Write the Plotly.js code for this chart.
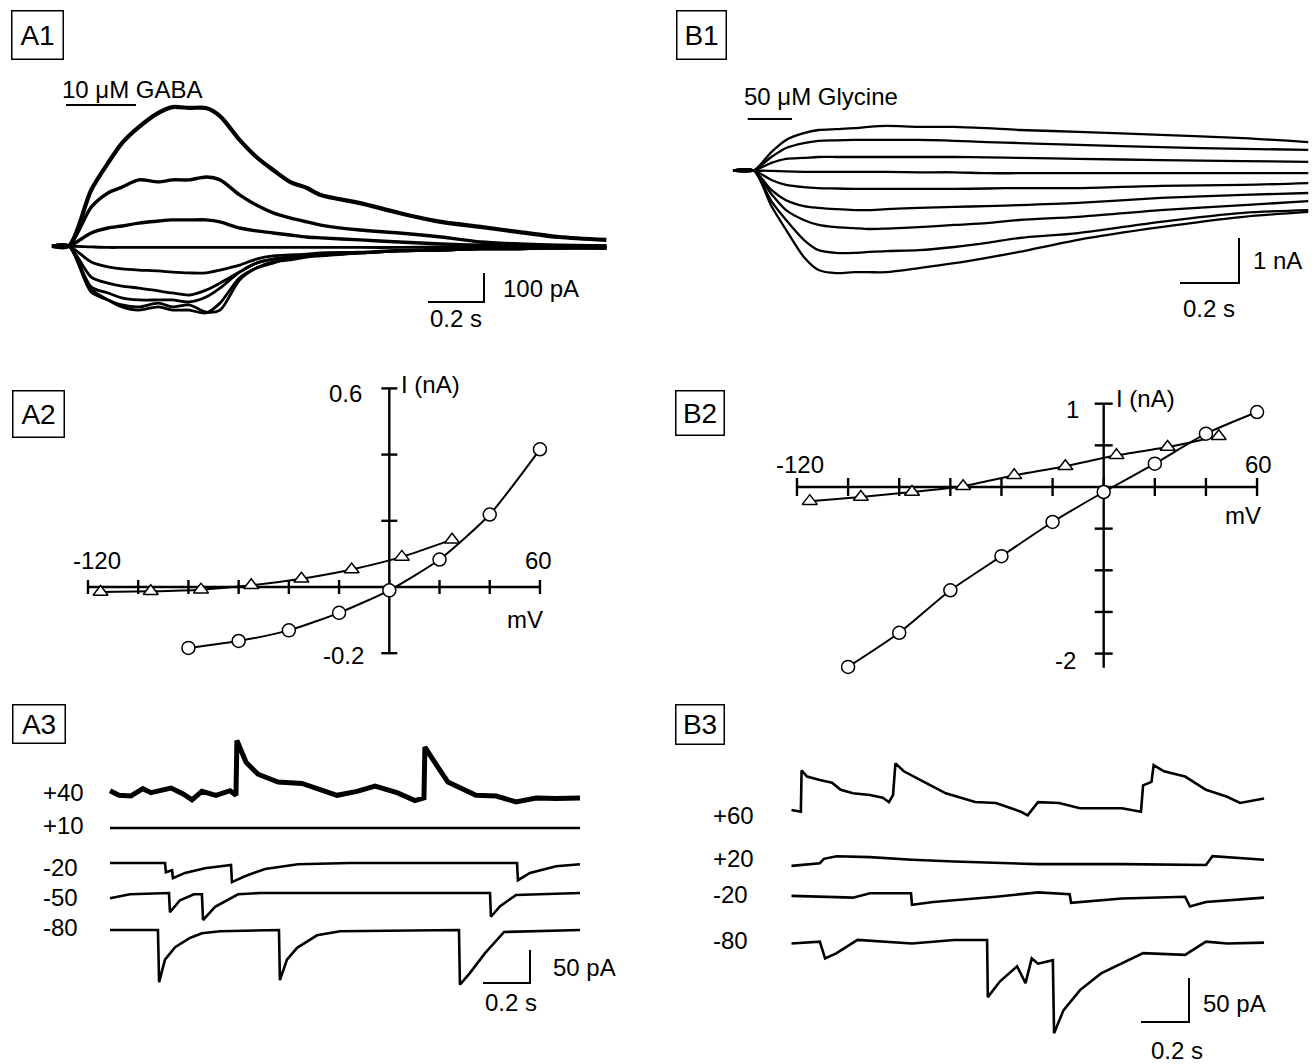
<!DOCTYPE html>
<html><head><meta charset="utf-8">
<script src="https://cdn.plot.ly/plotly-3.0.1.min.js"></script>
<style>html,body{margin:0;padding:0;background:#fff}#chart{width:1315px;height:1064px}</style>
</head><body><div id="chart"></div>
<script>
// ---------------- A1: GABA-evoked currents (time s, current pA) ----------------
const a1Time = [0,0.06,0.14,0.2,0.25,0.31,0.38,0.43,0.49,0.55,0.6,0.67,0.73,0.79,0.85,0.91,0.96,1.1,1.24,1.39,1.53,1.67,1.81,1.98];
const a1Cur1 = [0,0,193,286,355,410,459,479,476,476,448,366,307,262,221,200,176,148,114,83,66,48,31,21];
const a1Cur2 = [0,0,134,183,203,228,221,228,228,238,228,176,141,114,97,83,72,55,45,31,14,7,3,0];
const a1Cur3 = [0,0,45,62,69,79,86,90,90,90,83,62,52,45,38,31,28,21,14,7,3,0,0,0];
const a1Cur4 = [0,0,-3,-5,-5,-5,-5,-5,-5,-5,-5,-5,-5,-5,-5,-5,-5,-5,-5,-3,-3,-2,-2,-2];
const a1Cur5 = [0,0,-55,-72,-79,-83,-86,-90,-93,-93,-83,-66,-45,-34,-31,-28,-24,-21,-14,-10,-7,-7,-7,-7];
const a1Cur6 = [0,0,-107,-128,-138,-145,-155,-162,-169,-152,-128,-90,-59,-45,-38,-34,-31,-24,-17,-14,-10,-10,-7,-7];
const a1Cur7 = [0,0,-141,-162,-179,-186,-186,-186,-193,-176,-145,-90,-59,-45,-38,-34,-31,-24,-17,-14,-10,-10,-7,-7];
const a1Cur8 = [0,0,-148,-186,-210,-221,-210,-221,-221,-231,-197,-110,-76,-59,-41,-34,-31,-24,-17,-14,-10,-10,-7,-7];
const a1Cur9 = [0,0,-159,-186,-203,-210,-197,-210,-203,-228,-221,-117,-76,-55,-48,-38,-34,-24,-17,-14,-10,-10,-7,-7];
const a1Drug = [0.05, 0.30];          // GABA application (s)
const a1Scale = [0.2, 100];           // s, pA

// ---------------- B1: glycine-evoked currents (time s, current nA) ----------------
const b1Time = [0,0.07,0.13,0.18,0.24,0.29,0.35,0.41,0.46,0.52,0.63,0.75,0.86,0.97,1.17,1.45,1.73,1.95];
const b1Cur1 = [0,0,0.41,0.68,0.83,0.90,0.92,0.94,0.97,0.99,0.97,0.97,0.94,0.90,0.86,0.79,0.72,0.63];
const b1Cur2 = [0,0,0.30,0.50,0.61,0.66,0.67,0.68,0.68,0.68,0.68,0.66,0.63,0.61,0.57,0.52,0.48,0.46];
const b1Cur3 = [0,0,0.17,0.26,0.28,0.30,0.30,0.30,0.30,0.30,0.30,0.30,0.29,0.28,0.26,0.23,0.21,0.19];
const b1Cur4 = [0,0,-0.01,-0.02,-0.03,-0.03,-0.03,-0.03,-0.03,-0.03,-0.04,-0.04,-0.06,-0.06,-0.06,-0.06,-0.06,-0.06];
const b1Cur5 = [0,0,-0.21,-0.32,-0.37,-0.39,-0.40,-0.41,-0.41,-0.41,-0.41,-0.41,-0.40,-0.39,-0.39,-0.34,-0.32,-0.28];
const b1Cur6 = [0,0,-0.43,-0.66,-0.79,-0.83,-0.86,-0.88,-0.88,-0.86,-0.83,-0.81,-0.79,-0.77,-0.72,-0.61,-0.54,-0.50];
const b1Cur7 = [0,0,-0.52,-0.88,-1.10,-1.21,-1.26,-1.28,-1.30,-1.29,-1.26,-1.21,-1.17,-1.10,-1.03,-0.88,-0.77,-0.68];
const b1Cur8 = [0,0,-0.68,-1.10,-1.54,-1.77,-1.83,-1.83,-1.81,-1.79,-1.77,-1.70,-1.61,-1.50,-1.39,-1.14,-0.94,-0.88];
const b1Cur9 = [0,0,-0.79,-1.32,-1.92,-2.21,-2.28,-2.26,-2.26,-2.26,-2.17,-2.06,-1.94,-1.81,-1.54,-1.26,-1.03,-0.92];
const b1Drug = [0.05, 0.20];          // glycine application (s)
const b1Scale = [0.2, 1];             // s, nA

// ---------------- A2: I-V (mV, nA) ----------------
const a2CircV = [-80,-60,-40,-20,0,20,40,60];
const a2CircI = [-0.184,-0.163,-0.131,-0.078,-0.010,0.083,0.219,0.416];
const a2TriV  = [-115,-95,-75,-55,-35,-15,5,25];
const a2TriI  = [-0.015,-0.013,-0.008,0.005,0.025,0.053,0.091,0.143];
const a2VTicks = [-120,-100,-80,-60,-40,-20,0,20,40,60];
const a2ITicks = [-0.2,0,0.2,0.4,0.6];

// ---------------- B2: I-V (mV, nA) ----------------
const b2CircV = [-100,-80,-60,-40,-20,0,20,40,60];
const b2CircI = [-2.16,-1.75,-1.24,-0.83,-0.42,-0.06,0.28,0.64,0.90];
const b2TriV  = [-115,-95,-75,-55,-35,-15,5,25,45];
const b2TriI  = [-0.17,-0.12,-0.06,0.01,0.14,0.25,0.38,0.48,0.61];
const b2VTicks = [-120,-100,-80,-60,-40,-20,0,20,40,60];
const b2ITicks = [-2,-1.5,-1,-0.5,0,0.5,1];

// ---------------- A3: spontaneous currents (s, pA) ----------------
const a3T40 = [0,0.038,0.089,0.140,0.174,0.260,0.311,0.349,0.391,0.451,0.511,0.536,0.540,0.579,0.630,0.715,0.817,0.881,0.966,1.051,1.128,1.221,1.298,1.336,1.340,1.391,1.438,1.557,1.643,1.728,1.813,1.898,2.0];
const a3I40 = [5,-2,-3,8,2,9,0,-9,4,-2,5,-2,81,48,30,18,16,8,-2,4,12,2,-10,-6,71,43,18,-2,-3,-12,-6,-7,-6];
const a3T10 = [0,0.5,1.0,1.5,2.0];
const a3I10 = [0,0,0,0,0];
const a3Tm20 = [0,0.234,0.238,0.264,0.268,0.319,0.404,0.515,0.519,0.574,0.660,0.8,1.021,1.732,1.736,1.787,1.898,2.0];
const a3Im20 = [0,0,-14,-11,-23,-15,-8,-3,-29,-20,-9,-2,0,0,-26,-15,-5,-2];
const a3Tm50 = [0,0.085,0.251,0.255,0.298,0.357,0.391,0.396,0.447,0.545,0.638,1.617,1.621,1.660,1.728,2.0];
const a3Im50 = [-8,-2,0,-29,-11,-2,-2,-41,-21,-2,0,0,-36,-20,-3,0];
const a3Tm80 = [0,0.204,0.209,0.234,0.277,0.340,0.391,0.468,0.719,0.723,0.753,0.796,0.881,0.979,1.485,1.489,1.532,1.596,1.677,2.0];
const a3Im80 = [0,0,-79,-45,-26,-12,-5,-2,0,-76,-45,-27,-8,-2,0,-83,-65,-35,-3,0];
const a3Labels = ['+40','+10','-20','-50','-80'];
const a3Scale = [0.2, 50];

// ---------------- B3: spontaneous currents (s, pA) ----------------
const b3T60 = [0,0.039,0.042,0.065,0.118,0.169,0.205,0.256,0.327,0.380,0.406,0.423,0.433,0.468,0.538,0.643,0.765,0.852,0.956,0.984,1.027,1.115,1.202,1.377,1.456,1.465,1.500,1.509,1.552,1.640,1.727,1.815,1.869,1.969];
const b3I60 = [0,-2,45,38,34,31,23,19,17,14,9,17,53,44,34,19,9,8,-2,-6,9,8,2,2,-2,28,32,51,44,38,23,15,8,13];
const b3T20 = [0,0.118,0.135,0.188,0.327,0.502,0.677,1.027,1.377,1.727,1.754,1.969];
const b3I20 = [-1,2,7,10,9,6,4,1,1,0,10,6];
const b3Tm20 = [0,0.256,0.327,0.498,0.502,0.590,0.852,1.027,1.159,1.165,1.377,1.640,1.660,1.727,1.969];
const b3Im20 = [-1,-3,2,2,-11,-8,-2,3,1,-9,-4,-2,-13,-8,-3];
const b3Tm80 = [0,0.118,0.140,0.188,0.275,0.502,0.677,0.815,0.818,0.869,0.940,0.975,1.001,1.027,1.089,1.094,1.133,1.202,1.290,1.377,1.465,1.640,1.727,1.815,1.969];
const b3Im80 = [-2,0,-19,-13,2,-2,2,2,-63,-45,-28,-47,-19,-25,-21,-104,-78,-55,-36,-25,-13,-15,0,-2,-1];
const b3Labels = ['+60','+20','-20','-80'];
const b3Scale = [0.2, 50];

// ================= layout geometry (pixels) =================
const W = 1315, H = 1064;
const FONT = 'Liberation Sans, Arial, Helvetica, sans-serif';
const P = {
  A1: {n:1, box:[40,70,625,340],   origin:[52,246],      scale:[280,0.29]},
  B1: {n:2, box:[720,70,1315,340], origin:[733,170.5],   scale:[295,45]},
  A2: {n:3, box:[60,370,600,680],  origin:[389.3,587],   scale:[2.511,331]},
  B2: {n:4, box:[740,370,1300,690],origin:[1103.7,487],  scale:[2.556,83.3]},
  A3: {n:5, box:[95,720,600,1010], origin:[110,930],     scale:[235,0.66]},
  B3: {n:6, box:[770,740,1300,1060],origin:[791.5,941.7],scale:[240,0.88]}
};
function xs(p){ return p.n===1 ? 'x' : 'x'+p.n; }
function ys(p){ return p.n===1 ? 'y' : 'y'+p.n; }
function dx(p, px){ return (px - p.origin[0]) / p.scale[0]; }
function dy(p, py){ return (p.origin[1] - py) / p.scale[1]; }

const layout = {
  width: W, height: H, margin:{l:0,r:0,t:0,b:0},
  paper_bgcolor:'#fff', plot_bgcolor:'rgba(0,0,0,0)',
  showlegend:false, annotations:[], font:{family:FONT, color:'#000'}
};
Object.values(P).forEach(p => {
  const [l,t,r,b] = p.box;
  const xk = p.n===1 ? 'xaxis' : 'xaxis'+p.n;
  const yk = p.n===1 ? 'yaxis' : 'yaxis'+p.n;
  layout[xk] = {domain:[l/W, r/W], range:[dx(p,l), dx(p,r)], anchor: ys(p), visible:false, fixedrange:true};
  layout[yk] = {domain:[1-b/H, 1-t/H], range:[dy(p,b), dy(p,t)], anchor: xs(p), visible:false, fixedrange:true};
});

const traces = [];
function line(p, x, y, w, shape){
  traces.push({type:'scatter', mode:'lines', x:x, y:y, xaxis:xs(p), yaxis:ys(p),
    line:{color:'#000', width:w, shape:shape||'linear', smoothing:0.8}, hoverinfo:'skip', cliponaxis:false});
}
function scaleBar(p, cornerPx, cornerPy, sz){
  const t1 = dx(p, cornerPx), i0 = dy(p, cornerPy);
  line(p, [t1 - sz[0], t1, t1], [i0, i0, i0 + sz[1]], 2);
}
function txt(s, px, py, xa, size){
  layout.annotations.push({text:s, x:px/W, y:1-py/H, xref:'paper', yref:'paper',
    xanchor:xa||'left', yanchor:'middle', showarrow:false, font:{family:FONT, size:size||24, color:'#000'}});
}
function boxLabel(s, l, t, r, b){
  layout.annotations.push({text:s, x:(l+r)/2/W, y:1-(t+b)/2/H, xref:'paper', yref:'paper',
    xanchor:'center', yanchor:'middle', showarrow:false, width:(r-l)-3, height:(b-t)-3,
    borderpad:0, borderwidth:1.5, bordercolor:'#000', align:'center', valign:'middle',
    font:{family:FONT, size:28, color:'#000'}});
}

// ---- A1 ----
[a1Cur1,a1Cur2,a1Cur3,a1Cur4,a1Cur5,a1Cur6,a1Cur7,a1Cur8,a1Cur9].forEach((c,k) =>
  line(P.A1, a1Time, c, k===0 ? 4.2 : (k<3 ? 3.4 : 2.8), 'spline'));
line(P.A1, a1Drug, [dy(P.A1,105), dy(P.A1,105)], 2);
scaleBar(P.A1, 484, 302, a1Scale);
txt('10 \u03bcM GABA', 60, 89);
txt('100 pA', 501, 288);
txt('0.2 s', 428, 318);
boxLabel('A1', 11, 10, 64, 60);

// ---- B1 ----
[b1Cur1,b1Cur2,b1Cur3,b1Cur4,b1Cur5,b1Cur6,b1Cur7,b1Cur8,b1Cur9].forEach(c =>
  line(P.B1, b1Time, c, 2.3, 'spline'));
line(P.B1, b1Drug, [dy(P.B1,119), dy(P.B1,119)], 2);
scaleBar(P.B1, 1239, 283, b1Scale);
txt('50 \u03bcM Glycine', 742, 96);
txt('1 nA', 1251, 260);
txt('0.2 s', 1181, 308);
boxLabel('B1', 676, 10, 727, 60);

// ---- IV axes helper ----
function ivPlot(p, vT, iT, iLo, iHi, vTickPx, iTickPx, cV, cI, tV, tI){
  const vl = vTickPx / p.scale[0], il = iTickPx / p.scale[1];
  const ax = [], ay = [];
  ax.push(vT[0], vT[vT.length-1], null); ay.push(0, 0, null);
  ax.push(0, 0, null); ay.push(iLo, iHi, null);
  vT.forEach(v => { ax.push(v, v, null); ay.push(-il, il, null); });
  iT.forEach(i => { if (i !== 0){ ax.push(-vl, vl, null); ay.push(i, i, null); } });
  traces.push({type:'scatter', mode:'lines', x:ax, y:ay, xaxis:xs(p), yaxis:ys(p),
    line:{color:'#000', width:2.4}, hoverinfo:'skip', cliponaxis:false});
  traces.push({type:'scatter', mode:'lines+markers', x:tV, y:tI, xaxis:xs(p), yaxis:ys(p),
    line:{color:'#000', width:2, shape:'spline', smoothing:0.6},
    marker:{symbol:'triangle-up', size:13, color:'#fff', line:{color:'#000', width:1.5}}, hoverinfo:'skip', cliponaxis:false});
  traces.push({type:'scatter', mode:'lines+markers', x:cV, y:cI, xaxis:xs(p), yaxis:ys(p),
    line:{color:'#000', width:2, shape:'spline', smoothing:0.6},
    marker:{symbol:'circle', size:13, color:'#fff', line:{color:'#000', width:1.5}}, hoverinfo:'skip', cliponaxis:false});
}

// ---- A2 ----
ivPlot(P.A2, a2VTicks, a2ITicks, -0.2, 0.6, 8, 7, a2CircV, a2CircI, a2TriV, a2TriI);
txt('0.6', 364, 393, 'right');
txt('-0.2', 366, 655, 'right');
txt('I (nA)', 399, 384);
txt('-120', 97, 560, 'center');
txt('60', 538, 560, 'center');
txt('mV', 525, 619, 'center');
boxLabel('A2', 12, 390, 65, 438);

// ---- B2 ----
ivPlot(P.B2, b2VTicks, b2ITicks, -2.17, 1.0, 9, 9, b2CircV, b2CircI, b2TriV, b2TriI);
txt('1', 1081, 409, 'right');
txt('I (nA)', 1114, 398);
txt('-120', 800, 465, 'center');
txt('60', 1258, 465, 'center');
txt('mV', 1243, 515, 'center');
txt('-2', 1078, 660, 'right');
boxLabel('B2', 675, 390, 725, 436);

// ---- A3 ----
const a3Base = [794, 828, 863, 893, 930];  // pixel baselines
const a3Sets = [[a3T40,a3I40],[a3T10,a3I10],[a3Tm20,a3Im20],[a3Tm50,a3Im50],[a3Tm80,a3Im80]];
a3Sets.forEach((s,k) => {
  const off = dy(P.A3, a3Base[k]);
  line(P.A3, s[0], s[1].map(v => v + off), k===0 ? 5 : 2.6);
});
const a3LabY = [792, 825, 867, 897, 927];
a3Labels.forEach((s,k) => txt(s, 41, a3LabY[k]));
scaleBar(P.A3, 530, 983, a3Scale);
txt('50 pA', 551, 967);
txt('0.2 s', 483, 1002);
boxLabel('A3', 12, 704, 66, 744);

// ---- B3 ----
const b3Base = [810, 865, 895, 941.7];
const b3Sets = [[b3T60,b3I60],[b3T20,b3I20],[b3Tm20,b3Im20],[b3Tm80,b3Im80]];
b3Sets.forEach((s,k) => {
  const off = dy(P.B3, b3Base[k]);
  line(P.B3, s[0], s[1].map(v => v + off), 2.6);
});
const b3LabY = [815, 858, 894, 940];
b3Labels.forEach((s,k) => txt(s, 711, b3LabY[k]));
scaleBar(P.B3, 1189, 1022, b3Scale);
txt('50 pA', 1201, 1003);
txt('0.2 s', 1149, 1050);
boxLabel('B3', 675, 704, 725, 745);

Plotly.newPlot('chart', traces, layout, {displayModeBar:false, staticPlot:true});
</script></body></html>
